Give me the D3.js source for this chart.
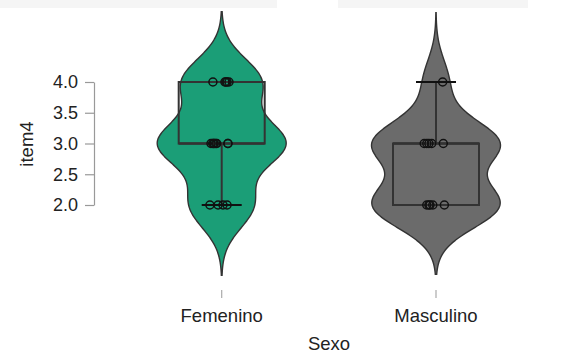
<!DOCTYPE html>
<html>
<head>
<meta charset="utf-8">
<script src="https://cdn.jsdelivr.net/npm/d3@7/dist/d3.min.js"></script>
<style>
  html, body { margin: 0; padding: 0; background: #ffffff; }
  svg { display: block; }
  text { font-family: "Liberation Sans", Arial, sans-serif; fill: #222; }
</style>
</head>
<body>
<svg id="chart" width="579" height="356"></svg>
<script>
// ---- data ----
const categories = ["Femenino", "Masculino"];
// item4 responses per group
const femeninoValues = [2,2,2,2, 3,3,3,3,3,3,3,3, 4,4,4,4,4];
const masculinoValues = [2,2,2,2,2, 3,3,3,3,3, 4];
// horizontal jitter of each point, as a fraction of the category spacing
const femeninoJitter = [-0.055,-0.017,0.006,0.025,
                        -0.050,-0.036,-0.023,0.029,-0.042,-0.028,0.029,-0.036,
                        -0.041,0.015,0.025,0.034,0.020];
const masculinoJitter = [-0.043,-0.028,-0.015,0.039,-0.033,
                         -0.055,-0.043,-0.033,-0.020,0.034,
                         0.031];
const yTicks = [2.0, 2.5, 3.0, 3.5, 4.0];
const groupColors = ["#1b9e77", "#6b6b6b"];
const xTitle = "Sexo";
const yTitle = "item4";

const groups = [
  { name: categories[0], values: femeninoValues, jitter: femeninoJitter, color: groupColors[0] },
  { name: categories[1], values: masculinoValues, jitter: masculinoJitter, color: groupColors[1] }
];

// ---- layout ----
const svg = d3.select("#chart");
svg.append("rect").attr("x", 0).attr("y", 0).attr("width", 277).attr("height", 8).attr("fill", "#f5f5f5");
svg.append("rect").attr("x", 338).attr("y", 0).attr("width", 190).attr("height", 8).attr("fill", "#f5f5f5");

const x = d3.scalePoint().domain(categories).range([221.7, 436]);
const step = x(categories[1]) - x(categories[0]);
const y = d3.scaleLinear().domain([2, 4]).range([205, 82]);

const violinHalf = 64.5;
const boxHalf = 43;
const capHalf = 20;

function bwNrd0(v) {
  const s = d3.deviation(v);
  const iqr = d3.quantile(v, 0.75) - d3.quantile(v, 0.25);
  const lo = Math.min(s, iqr / 1.34);
  return 0.9 * lo * Math.pow(v.length, -0.2);
}
function kde(v, bw) {
  const lo = d3.min(v) - 3 * bw, hi = d3.max(v) + 3 * bw;
  const n = 256;
  const pts = d3.range(n + 1).map(i => lo + (hi - lo) * i / n);
  return pts.map(t => [t, d3.mean(v, d => Math.exp(-0.5 * ((t - d) / bw) ** 2)) / (bw * Math.sqrt(2 * Math.PI))]);
}

groups.forEach(g => {
  const sorted = g.values.slice().sort(d3.ascending);
  const bw = bwNrd0(sorted);
  const dens = kde(sorted, bw);
  const w = d3.scaleLinear().domain([0, d3.max(dens, d => d[1])]).range([0, violinHalf]);
  const cx = x(g.name);
  const area = d3.area()
    .x0(d => cx - w(d[1]))
    .x1(d => cx + w(d[1]))
    .y(d => y(d[0]))
    .curve(d3.curveBasis);
  const gg = svg.append("g");
  gg.append("path").datum(dens).attr("d", area)
    .attr("fill", g.color).attr("stroke", "#333").attr("stroke-width", 1.4);

  const q1 = d3.quantile(sorted, 0.25), med = d3.quantile(sorted, 0.5), q3 = d3.quantile(sorted, 0.75);
  const iqr = q3 - q1;
  const lowW = d3.min(sorted.filter(v => v >= q1 - 1.5 * iqr));
  const highW = d3.max(sorted.filter(v => v <= q3 + 1.5 * iqr));

  // whiskers
  gg.append("line").attr("x1", cx).attr("x2", cx).attr("y1", y(q1)).attr("y2", y(lowW))
    .attr("stroke", "#333").attr("stroke-width", 2);
  gg.append("line").attr("x1", cx).attr("x2", cx).attr("y1", y(q3)).attr("y2", y(highW))
    .attr("stroke", "#333").attr("stroke-width", 2);
  [lowW, highW].forEach(v => {
    if (v !== q1 && v !== q3) {
      gg.append("line").attr("x1", cx - capHalf).attr("x2", cx + capHalf).attr("y1", y(v)).attr("y2", y(v))
        .attr("stroke", "#111").attr("stroke-width", 1.8);
    }
  });
  // box
  gg.append("rect").attr("x", cx - boxHalf).attr("width", 2 * boxHalf)
    .attr("y", y(q3)).attr("height", y(q1) - y(q3))
    .attr("fill", "none").attr("stroke", "#333").attr("stroke-width", 2);
  gg.append("line").attr("x1", cx - boxHalf).attr("x2", cx + boxHalf).attr("y1", y(med)).attr("y2", y(med))
    .attr("stroke", "#333").attr("stroke-width", 2.4);

  // points
  gg.selectAll("circle").data(g.values.map((v, i) => ({ v, j: g.jitter[i] })))
    .join("circle")
    .attr("cx", d => cx + d.j * step)
    .attr("cy", d => y(d.v))
    .attr("r", 4)
    .attr("fill", "none").attr("stroke", "#111").attr("stroke-width", 1.5);
});

// ---- y axis ----
const yAxis = d3.axisLeft(y).tickValues(yTicks).tickFormat(d3.format(".1f"))
  .tickSize(9).tickSizeOuter(0).tickPadding(7);
const ya = svg.append("g").attr("transform", "translate(94,0)").call(yAxis);
ya.select(".domain").attr("stroke", "#999").attr("stroke-width", 1.2);
ya.selectAll(".tick line").attr("stroke", "#999").attr("stroke-width", 1.2);
ya.selectAll(".tick text").attr("font-size", 18).attr("fill", "#222")
  .style("font-family", "'Liberation Sans', Arial, sans-serif");

// ---- x axis (ticks + labels only) ----
categories.forEach(c => {
  svg.append("line").attr("x1", x(c)).attr("x2", x(c)).attr("y1", 290).attr("y2", 298)
    .attr("stroke", "#aaa").attr("stroke-width", 1.2);
  svg.append("text").attr("x", x(c)).attr("y", 322).attr("text-anchor", "middle")
    .attr("font-size", 18.5).text(c);
});

svg.append("text").attr("x", 329).attr("y", 350).attr("text-anchor", "middle")
  .attr("font-size", 18.5).text(xTitle);
svg.append("text").attr("transform", "translate(33,144) rotate(-90)").attr("text-anchor", "middle")
  .attr("font-size", 18.5).text(yTitle);
</script>
</body>
</html>
